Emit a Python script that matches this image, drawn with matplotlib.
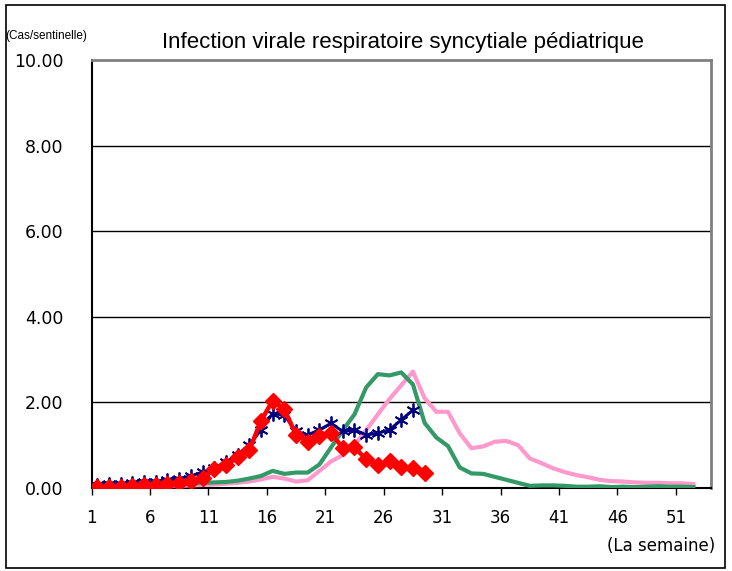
import numpy as np
import matplotlib
matplotlib.use("Agg")
import matplotlib.pyplot as plt
from matplotlib.patches import Rectangle

# weekly cases per sentinel, four seasons
weeks_long = np.arange(1, 53)
weeks_red = np.arange(1, 30)
weeks_blue = np.arange(1, 29)

pink = [0.02, 0.02, 0.03, 0.03, 0.04, 0.04, 0.05, 0.05, 0.06, 0.07, 0.08, 0.10,
        0.12, 0.15, 0.20, 0.26, 0.22, 0.15, 0.18, 0.40, 0.62, 0.77, 1.00, 1.35,
        1.72, 2.08, 2.40, 2.72, 2.10, 1.78, 1.78, 1.28, 0.93, 0.97, 1.08, 1.10,
        1.00, 0.69, 0.58, 0.46, 0.37, 0.30, 0.25, 0.19, 0.16, 0.15, 0.13, 0.12,
        0.12, 0.11, 0.11, 0.09]

green = [0.02, 0.03, 0.03, 0.04, 0.05, 0.05, 0.06, 0.08, 0.10, 0.12, 0.13, 0.14,
         0.17, 0.22, 0.28, 0.40, 0.33, 0.36, 0.36, 0.55, 0.95, 1.35, 1.72, 2.35,
         2.66, 2.63, 2.70, 2.42, 1.52, 1.18, 0.98, 0.48, 0.34, 0.33, 0.26, 0.19,
         0.12, 0.05, 0.06, 0.06, 0.05, 0.03, 0.03, 0.04, 0.02, 0.03, 0.02, 0.03,
         0.04, 0.03, 0.03, 0.02]

blue = [0.08, 0.09, 0.10, 0.11, 0.13, 0.15, 0.18, 0.22, 0.28, 0.37, 0.47, 0.60,
        0.78, 1.00, 1.36, 1.74, 1.70, 1.32, 1.24, 1.36, 1.51, 1.32, 1.36, 1.24,
        1.28, 1.36, 1.59, 1.82]

red = [0.02, 0.03, 0.03, 0.05, 0.07, 0.08, 0.10, 0.12, 0.16, 0.24, 0.44, 0.53,
       0.72, 0.88, 1.57, 2.04, 1.84, 1.24, 1.08, 1.21, 1.29, 0.93, 0.95, 0.67,
       0.54, 0.62, 0.50, 0.46, 0.36]

tick_weeks = np.arange(1, 53, 5)
y_ticks = np.arange(0, 10.01, 2)

fig = plt.figure(figsize=(7.32, 5.71), dpi=100)
ax = fig.add_axes([0.125, 0.1454, 0.8463, 0.7495])

ax.plot(weeks_long, pink, color="#FF99CC", lw=3, zorder=3)
ax.plot(weeks_long, green, color="#339966", lw=3, zorder=4)
ax.plot(weeks_blue, blue, color="#000080", lw=2.2, marker=(6, 2, 0), ms=10,
        mew=1.3, zorder=5)
ax.plot(weeks_red, red, color="#FF0000", lw=3.2, marker="D", ms=8.5, zorder=6)

ax.set_xlim(0.5, 53.5)
ax.set_ylim(0, 10)

# category axis: tick labelled n sits on the left edge of week n
ax.set_xticks(tick_weeks - 0.5)
ax.set_xticklabels([str(t) for t in tick_weeks])
ax.set_yticks(y_ticks)
ax.set_yticklabels(["%.2f" % v for v in y_ticks])
ax.tick_params(axis="x", direction="out", length=5, width=1, pad=10, labelsize=12)
ax.tick_params(axis="y", length=0, pad=20, labelsize=12.5)

for v in y_ticks[1:-1]:
    ax.axhline(v, color="black", lw=1, zorder=1)

ax.spines["left"].set_color("black")
ax.spines["left"].set_linewidth(1.5)
ax.spines["bottom"].set_color("black")
ax.spines["bottom"].set_linewidth(1.5)
ax.spines["top"].set_color("#808080")
ax.spines["top"].set_linewidth(2)
ax.spines["right"].set_color("#808080")
ax.spines["right"].set_linewidth(2)

fig.text(0.551, 0.926, "Infection virale respiratoire syncytiale pédiatrique",
         ha="center", va="center", fontsize=16, family=["Liberation Sans", "DejaVu Sans"])
fig.text(0.007, 0.937, "(Cas/sentinelle)", ha="left", va="center",
         fontsize=8.5, family=["Liberation Sans", "DejaVu Sans"])
fig.text(0.977, 0.044, "(La semaine)", ha="right", va="center", fontsize=12)

fig.patches.append(Rectangle((0.008, 0.006), 0.983, 0.986, transform=fig.transFigure,
                             fill=False, edgecolor="black", lw=1.2))

fig.savefig("out.png", dpi=100)
